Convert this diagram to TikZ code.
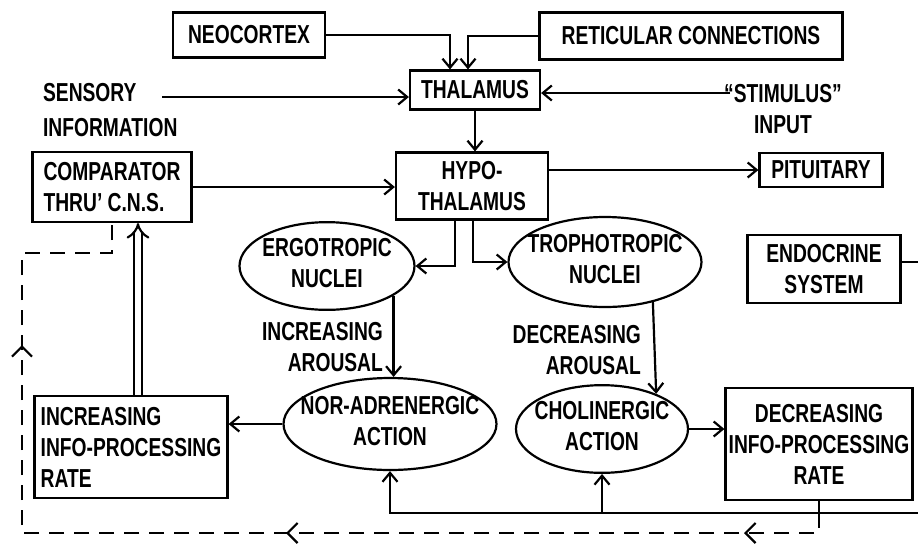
\documentclass[tikz,border=0pt]{standalone}
\usepackage{fontspec}
\setmainfont{Liberation Sans}[FakeStretch=0.74]
\usetikzlibrary{shapes.geometric,arrows.meta,decorations.markings}
\newcommand{\ovaltext}[2]{\makebox[0pt]{\begin{tabular}{@{}c@{}}#1\\#2\end{tabular}}}

\begin{document}
\begin{tikzpicture}[font=\bfseries\fontsize{13}{15.5}\selectfont, x=0.5pt, y=-0.5pt,
  line width=1.1pt, inner sep=0pt, >={Straight Barb[length=4.5pt,width=7.5pt]},
  box/.style={draw, align=center},
  oval/.style={draw, ellipse},
  fbdash/.style={dashed, dash pattern=on 7.5pt off 5pt}]

\useasboundingbox (0,0) rectangle (918,543);

\node[box, minimum width=76pt, minimum height=22.5pt] (neo) at (249,35) {NEOCORTEX};
\node[box, minimum width=151.5pt, minimum height=23.5pt] (ret) at (691,36) {RETICULAR CONNECTIONS};
\node[box, minimum width=65pt, minimum height=19.5pt] (thal) at (475,90) {THALAMUS};
\node[box, minimum width=76pt, minimum height=33.5pt] (hyp) at (472,186) {HYPO-\\THALAMUS};
\node[box, align=left, minimum width=79.5pt, minimum height=35pt] (comp) at (112,187) {COMPARATOR\\THRU' C.N.S.};
\node[box, minimum width=61.5pt, minimum height=17pt] (pit) at (821,170) {PITUITARY};
\node[box, minimum width=76.5pt, minimum height=34pt] (endo) at (824,269) {ENDOCRINE\\SYSTEM};
\node[box, align=left, minimum width=96.5pt, minimum height=51pt] (inc) at (131,447) {INCREASING\\INFO-PROCESSING\\RATE};
\node[box, minimum width=93.5pt, minimum height=56pt] (dec) at (819,444) {DECREASING\\INFO-PROCESSING\\RATE};

\node[oval, minimum width=87.5pt, minimum height=41pt] (ergo) at (327,266) {\ovaltext{ERGOTROPIC}{NUCLEI}};
\node[oval, minimum width=96.5pt, minimum height=45pt] (tropho) at (605,262) {\ovaltext{TROPHOTROPIC}{NUCLEI}};
\node[oval, minimum width=106.5pt, minimum height=46pt] (nor) at (390,424) {\ovaltext{NOR-ADRENERGIC}{ACTION}};
\node[oval, minimum width=86pt, minimum height=41pt] (chol) at (602,429) {\ovaltext{CHOLINERGIC}{ACTION}};

\node[align=left, anchor=west, font=\bfseries\fontsize{13}{17.5}\selectfont] (sens) at (42,110) {SENSORY\\INFORMATION};
\node[align=center] (stim) at (783,109) {``STIMULUS''\\INPUT};
\node[align=right, anchor=east] (incar) at (384,347) {INCREASING\\AROUSAL};
\node[align=right, anchor=east] (decar) at (642,350) {DECREASING\\AROUSAL};

\coordinate (s0) at (162,97);
\coordinate (s1) at (730,93);
\coordinate (fb) at (918,513);
\coordinate (dbl) at (22,533);
\coordinate (dtl) at (22,253);

% inputs to the thalamus
\draw[->] (neo.east) -| ([xshift=-12.5pt]thal.north);
\draw[->] (ret.west) -| ([xshift=-3.5pt]thal.north);
\draw[->] (s0) -- (s0 -| thal.west);
\draw[->] (s1) -- (s1 -| thal.east);
\draw[->] (thal.south) -- (thal.south |- hyp.north);

\draw[->] (comp.east) -- (comp.east -| hyp.west);
\draw[->] (pit.west -| hyp.east) -- (pit.west);
\draw[->] ([xshift=-8.5pt]hyp.south) |- (ergo.east);
\draw[->] ([xshift=0.5pt]hyp.south) |- (tropho.west);
\draw ([yshift=3.5pt]endo.east) -- ([yshift=3.5pt]endo.east -| fb);

% arousal
\draw[->] (ergo.-24) -- (ergo.-24 |- nor.north);
\draw[->] (tropho.-40) -- (chol.33);
\draw[->] (nor.west) -- (nor.west -| inc.east);
\draw[->] (chol.east) -- (chol.east -| dec.west);
\draw[double, double distance=2.8pt, -{Implies}] ([xshift=3.5pt]inc.north) -- ([xshift=3.5pt]inc.north |- comp.south);

% feedback
\draw (dec.south) -- (dec.south |- fb);
\draw[->] (fb) -| (nor.south);
\draw[->] (chol.south |- fb) -- (chol.south);
\draw[fbdash, postaction={decorate}, decoration={markings,
    mark=at position 47.5pt with {\arrow{Straight Barb[length=5pt,width=10pt]}},
    mark=at position 276.5pt with {\arrow{Straight Barb[length=5pt,width=10pt]}},
    mark=at position 502.5pt with {\arrow{Straight Barb[length=5pt,width=10pt]}}}]
  (dec.south |- fb) |- (dbl) -- (dtl) -| (comp.south);
\end{tikzpicture}
\end{document}
